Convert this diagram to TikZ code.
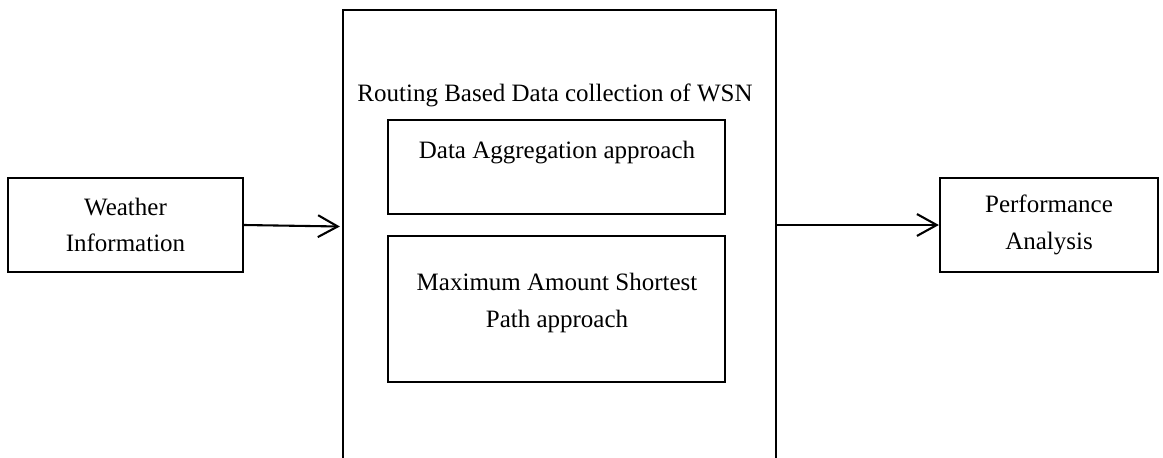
\documentclass[tikz,border=0pt]{standalone}
\usepackage{fontspec}
\setmainfont{Liberation Serif}
\usetikzlibrary{positioning}
\usetikzlibrary{calc}
\usetikzlibrary{arrows.meta}

\begin{document}
\begin{tikzpicture}[x=0.48pt, y=-0.48pt, font=\fontsize{12}{17.5}\selectfont,
    box/.style={draw, line width=1.1pt, align=center, inner sep=0pt},
    arr/.style={-{Straight Barb[length=9.5pt, width=10.5pt, line width=1pt]}, line width=1pt}]
    \useasboundingbox (0,0) rectangle (1163,457);
    \clip (0,0) rectangle (1163,457);

    \node (weather) [box, minimum width=112.8pt, minimum height=45.1pt] at (125.5,225) {Weather\\Information};
    \node (big) [box, minimum width=207.8pt, minimum height=225.6pt] at (559.5,245) {};
    \node (title) at (555,95) {Routing Based Data collection of WSN};
    \node (agg) [box, minimum width=161.8pt, minimum height=45.1pt] at (556.5,167) {};
    \node (aggtext) at (557,153) {Data Aggregation approach};
    \node (msp) [box, minimum width=161.8pt, minimum height=70.1pt] at (556.5,309) {};
    \node (msptext) [align=center] at (557,303) {Maximum Amount Shortest\\Path approach};
    \node (perf) [box, minimum width=104.6pt, minimum height=45.1pt] at (1049,225) {Performance\\Analysis};

    \draw[arr] (weather.east) -- ($(big.west |- weather.east)+(-2,1.5)$);
    \draw[arr] (big.east |- perf.west) -- (perf.west);
\end{tikzpicture}
\end{document}
